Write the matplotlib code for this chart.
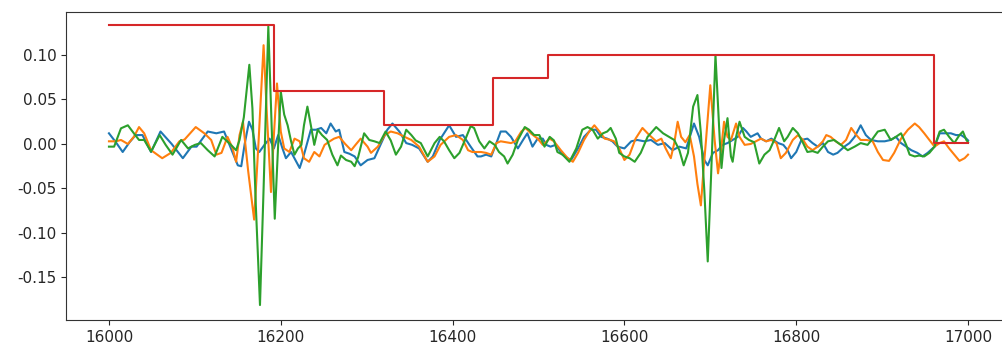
import matplotlib
matplotlib.use("Agg")
import matplotlib.pyplot as plt

# values, per series (x, value)
blue_x = [16000, 16008, 16016, 16024, 16031, 16039, 16049, 16060, 16073, 16086,
          16096, 16102, 16115, 16125, 16134, 16142, 16150, 16154, 16158, 16163,
          16167, 16171, 16175, 16181, 16187, 16192, 16197, 16202, 16206, 16212,
          16222, 16227, 16235, 16241, 16247, 16253, 16258, 16264, 16268, 16274,
          16280, 16286, 16293, 16301, 16309, 16317, 16324, 16330, 16338, 16346,
          16353, 16361, 16371, 16377, 16385, 16396, 16404, 16412, 16421, 16429,
          16433, 16439, 16445, 16451, 16456, 16462, 16468, 16476, 16482, 16487,
          16493, 16499, 16505, 16509, 16514, 16520, 16528, 16534, 16538, 16546,
          16553, 16561, 16567, 16573, 16580, 16586, 16592, 16600, 16608, 16615,
          16623, 16631, 16639, 16647, 16656, 16664, 16672, 16681, 16687, 16693,
          16697, 16703, 16709, 16714, 16720, 16726, 16732, 16738, 16742, 16747,
          16755, 16759, 16765, 16771, 16779, 16785, 16790, 16794, 16800, 16806,
          16813, 16819, 16825, 16831, 16837, 16843, 16848, 16856, 16862, 16868,
          16875, 16881, 16887, 16895, 16903, 16910, 16916, 16922, 16928, 16934,
          16941, 16947, 16953, 16961, 16967, 16973, 16980, 16986, 16992, 16998,
          17000]
blue_y = [0.012, 0.002, -0.009, 0.002, 0.010, 0.010, -0.009, 0.014, 0.000, -0.016,
          -0.003, -0.003, 0.014, 0.012, 0.014, -0.005, -0.024, -0.025, 0.000, 0.025,
          0.016, -0.005, -0.009, -0.001, 0.006, -0.005, 0.010, -0.005, -0.016, -0.009,
          -0.027, -0.012, 0.016, 0.016, 0.018, 0.012, 0.023, 0.014, 0.016, -0.009,
          -0.011, -0.014, -0.024, -0.018, -0.016, 0.001, 0.016, 0.023, 0.014, 0.001,
          -0.001, -0.005, -0.020, -0.014, 0.0045, 0.021, 0.008, 0.010, -0.003, -0.014,
          -0.014, -0.012, -0.014, 0.001, 0.014, 0.014, 0.008, -0.005, 0.0045, 0.012,
          -0.003, 0.006, 0.006, -0.001, -0.003, -0.001, -0.012, -0.016, -0.018, -0.005,
          0.008, 0.016, 0.016, 0.008, 0.006, 0.003, -0.003, -0.005, 0.003, 0.0045,
          0.003, 0.0045, -0.001, 0.001, -0.007, -0.003, -0.005, 0.023, 0.008, -0.018,
          -0.024, -0.010, -0.007, -0.001, 0.001, 0.0045, 0.008, 0.018, 0.014, 0.008,
          0.012, 0.006, 0.003, 0.006, 0.001, -0.001, -0.007, -0.016, -0.009, 0.0045,
          0.006, 0.001, -0.003, 0.001, -0.009, -0.012, -0.010, -0.003, 0.001, 0.008,
          0.021, 0.010, 0.0045, 0.003, 0.003, 0.0045, 0.008, 0.001, -0.003, -0.007,
          -0.010, -0.014, -0.010, -0.003, 0.012, 0.012, 0.012, 0.010, 0.010, 0.006,
          0.004]

orange_x = [16000, 16008, 16014, 16022, 16029, 16035, 16041, 16049, 16062, 16072,
            16082, 16088, 16101, 16111, 16119, 16125, 16131, 16138, 16144, 16148,
            16152, 16156, 16162, 16169, 16174, 16180, 16184, 16188.6, 16192, 16195.6,
            16200, 16204, 16210, 16216, 16222, 16227, 16233, 16239, 16245, 16251,
            16257, 16262, 16268, 16275, 16282, 16287, 16293, 16301, 16305, 16313,
            16321, 16328, 16336, 16344, 16352, 16361, 16371, 16379, 16386, 16396,
            16404, 16412, 16418, 16423, 16433, 16439, 16445, 16451, 16456, 16462,
            16468, 16473, 16480, 16485, 16491, 16499, 16505, 16513, 16518, 16526,
            16534, 16540, 16546, 16553, 16559, 16565, 16571, 16577, 16582, 16588,
            16594, 16600, 16606, 16613, 16621, 16629, 16637, 16643, 16648, 16654,
            16658, 16662, 16666, 16671, 16676, 16681, 16685, 16689, 16692, 16695,
            16700, 16703, 16705, 16709, 16712.5, 16716, 16720, 16724, 16730, 16734,
            16740, 16747, 16753, 16759, 16765, 16771, 16777, 16782, 16788, 16796,
            16802, 16808, 16813, 16819, 16825, 16831, 16835, 16840, 16846, 16852,
            16858, 16864, 16870, 16875, 16882, 16889, 16895, 16901, 16908, 16914,
            16922, 16930, 16938, 16943, 16949, 16955, 16961, 16967, 16972, 16978,
            16984, 16990, 16996, 17000]
orange_y = [0.003, 0.003, 0.0045, 0.000, 0.008, 0.019, 0.012, -0.007, -0.016, -0.010,
            0.003, 0.005, 0.019, 0.012, 0.0045, -0.012, -0.010, 0.008, -0.005, -0.020,
            0.010, 0.025, -0.030, -0.085, 0.000, 0.111, 0.030, -0.054, 0.010, 0.068,
            0.014, -0.005, -0.009, 0.006, 0.003, -0.016, -0.020, -0.009, -0.014, -0.001,
            0.003, 0.006, 0.008, 0.000, -0.007, -0.001, 0.006, -0.003, -0.010, -0.003,
            0.010, 0.014, 0.012, 0.008, 0.0045, -0.003, -0.020, -0.014, -0.001, 0.008,
            0.010, 0.0045, -0.007, -0.009, -0.009, -0.010, -0.012, 0.001, 0.003, 0.002,
            0.001, 0.003, 0.014, 0.018, 0.012, 0.006, -0.001, 0.006, 0.003, -0.007,
            -0.016, -0.020, -0.010, 0.0045, 0.014, 0.021, 0.014, 0.006, 0.005, 0.003,
            -0.005, -0.018, -0.012, 0.006, 0.018, 0.010, 0.003, 0.006, -0.005, -0.016,
            0.001, 0.025, 0.008, 0.002, 0.010, -0.014, -0.045, -0.069, -0.030, 0.0045,
            0.066, 0.030, 0.0045, -0.033, -0.007, 0.025, 0.008, 0.0045, 0.023, 0.008,
            -0.001, 0.000, 0.003, 0.006, 0.003, 0.0045, 0.001, -0.016, -0.010, 0.0045,
            0.010, 0.0045, -0.003, -0.007, -0.003, 0.003, 0.010, 0.008, 0.003, -0.001,
            0.0045, 0.018, 0.010, 0.0045, 0.0045, 0.003, -0.009, -0.018, -0.019, -0.010,
            0.006, 0.016, 0.023, 0.019, 0.012, 0.0045, -0.003, 0.001, 0.003, -0.005,
            -0.012, -0.019, -0.016, -0.012]

green_x = [16000, 16006, 16014, 16022, 16029, 16035, 16041, 16049, 16059, 16066,
           16074, 16084, 16092, 16100, 16107, 16115, 16123, 16132, 16142, 16148,
           16152, 16157, 16163.4, 16167, 16171, 16175.8, 16180, 16185.5, 16189, 16193,
           16197, 16200, 16204, 16208, 16212, 16216, 16220, 16224, 16227, 16231,
           16235, 16239, 16243, 16248, 16254, 16260, 16266, 16270, 16276, 16282,
           16286, 16290, 16297, 16303, 16309, 16315, 16322, 16328, 16334, 16340,
           16346, 16352, 16357, 16363, 16371, 16379, 16385, 16390, 16396, 16402,
           16408, 16416, 16421, 16425, 16431, 16437, 16443, 16449, 16454, 16460,
           16464, 16470, 16476, 16484, 16489, 16495, 16501, 16507, 16513, 16518,
           16522, 16528, 16536, 16544, 16551, 16557, 16563, 16569, 16575, 16580,
           16584, 16590, 16594, 16600, 16606, 16612, 16619, 16627, 16637, 16645,
           16652, 16658, 16664, 16669, 16674, 16680, 16685, 16689, 16693, 16697,
           16701, 16706, 16711, 16713, 16716, 16720, 16724, 16726, 16730, 16734,
           16740, 16745, 16751, 16757, 16763, 16769, 16775, 16780, 16786, 16790,
           16796, 16802, 16808, 16813, 16819, 16825, 16831, 16837, 16844, 16852,
           16860, 16868, 16875, 16883, 16889, 16895, 16903, 16910, 16916, 16922,
           16928, 16932, 16938, 16943, 16949, 16955, 16961, 16967, 16972, 16978,
           16984, 16990, 16994, 16998, 17000]
green_y = [-0.003, -0.003, 0.0176, 0.021, 0.012, 0.0045, 0.0045, -0.0086, 0.010, -0.001,
           -0.012, 0.0045, -0.005, -0.001, 0.001, -0.007, -0.014, 0.008, -0.001, -0.007,
           0.0045, 0.030, 0.089, 0.040, -0.070, -0.181, -0.050, 0.132, 0.030, -0.084,
           0.000, 0.059, 0.033, 0.021, 0.003, -0.012, -0.005, -0.001, 0.021, 0.042,
           0.021, -0.001, 0.016, 0.010, 0.0045, -0.012, -0.024, -0.013, -0.018, -0.020,
           -0.025, -0.015, 0.012, 0.0045, 0.003, 0.001, 0.014, 0.004, -0.012, -0.003,
           0.016, 0.010, 0.004, 0.001, -0.014, 0.001, 0.008, 0.003, -0.007, -0.016,
           -0.010, 0.008, 0.020, 0.018, 0.003, -0.005, 0.003, -0.001, -0.009, -0.014,
           -0.022, -0.012, 0.0045, 0.019, 0.016, 0.010, 0.010, -0.003, 0.008, 0.004,
           -0.009, -0.012, -0.020, -0.005, 0.016, 0.019, 0.016, 0.006, 0.012, 0.014,
           0.018, 0.006, -0.010, -0.014, -0.016, -0.020, -0.010, 0.008, 0.019, 0.012,
           0.008, 0.0045, -0.007, -0.024, -0.010, 0.042, 0.055, 0.012, -0.052, -0.132,
           -0.033, 0.100, 0.0045, -0.027, 0.0045, 0.029, -0.014, -0.020, 0.008, 0.025,
           0.008, 0.0045, 0.002, -0.022, -0.012, -0.007, 0.006, 0.018, 0.003, 0.008,
           0.018, 0.012, 0.001, -0.009, -0.008, -0.010, -0.003, 0.003, 0.0045, -0.001,
           -0.007, -0.003, 0.001, -0.001, 0.006, 0.014, 0.016, 0.0045, 0.008, 0.012,
           -0.001, -0.012, -0.014, -0.013, -0.014, -0.010, -0.003, 0.014, 0.016, 0.008,
           0.001, 0.010, 0.014, 0.0045, 0.002]

# step signal
red_x = [16000, 16192, 16320, 16447, 16511, 16960, 17000]
red_y = [0.134, 0.060, 0.021, 0.074, 0.100, 0.001, 0.001]

fig = plt.figure(figsize=(10.03, 3.42), dpi=100)
# right edge of the axes sits just past the picture, as in the reference
ax = fig.add_axes([66 / 1003, 1 - 320 / 342, 945 / 1003, 308 / 342])

ax.plot(blue_x, blue_y, color="tab:blue", lw=1.5)
ax.plot(orange_x, orange_y, color="tab:orange", lw=1.5)
ax.plot(green_x, green_y, color="tab:green", lw=1.5)
ax.plot(red_x, red_y, color="tab:red", lw=1.5, drawstyle="steps-post")

ax.set_xlim(15950, 17050)
ax.set_ylim(-0.1978, 0.1483)
ax.set_xticks([16000, 16200, 16400, 16600, 16800, 17000])
ax.set_yticks([-0.15, -0.10, -0.05, 0.00, 0.05, 0.10])
ax.yaxis.set_major_formatter(matplotlib.ticker.FormatStrFormatter("%.2f"))
ax.tick_params(labelsize=11, colors="0.15")
for s in ax.spines.values():
    s.set_color("0.2")
ax.spines["right"].set_visible(False)

fig.savefig("out.png", dpi=100)
